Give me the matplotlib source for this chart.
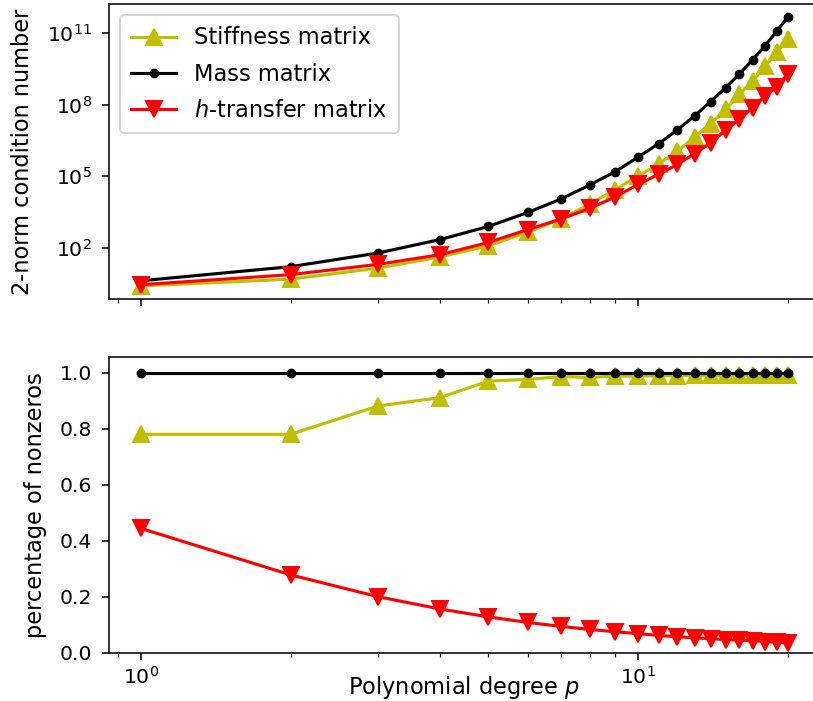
"""Condition numbers and sparsity of the p-version matrices versus polynomial degree."""

import matplotlib

matplotlib.use("Agg")

import matplotlib.pyplot as plt
from matplotlib.ticker import FixedLocator, LogFormatterSciNotation, NullLocator

OUT_PATH = "out.png"
DPI = 140
FONT_SIZE = 11.6
TICK_SIZE = 10.5

degrees = list(range(1, 21))

# 2-norm condition numbers
cond_stiffness = [2.5, 4.8, 14, 41, 120, 450, 1.6e3, 6.9e3, 2.75e4, 1.0e5,
                  3.3e5, 1.1e6, 4.5e6, 1.6e7, 6.3e7, 2.7e8, 1.0e9, 4.0e9, 1.6e10, 5.5e10]
cond_mass = [4.1, 16, 60, 220, 780, 3.0e3, 1.1e4, 4.3e4, 1.55e5, 6.3e5,
             2.3e6, 8.7e6, 3.4e7, 1.35e8, 5.1e8, 1.95e9, 7.6e9, 2.9e10, 1.2e11, 4.6e11]
cond_transfer = [2.8, 7.4, 20, 51, 166, 575, 1.6e3, 4.5e3, 1.35e4, 4.5e4,
                 1.2e5, 3.1e5, 8.9e5, 2.5e6, 8.5e6, 2.4e7, 7.4e7, 2.3e8, 5.6e8, 1.9e9]

# fraction of nonzero entries
nnz_stiffness = [0.78, 0.78, 0.881, 0.911, 0.970, 0.976, 0.986, 0.983, 0.988, 0.988,
                 0.989, 0.989, 0.990, 0.990, 0.990, 0.991, 0.991, 0.991, 0.991, 0.990]
nnz_mass = [1.0] * 20
nnz_transfer = [0.444, 0.278, 0.200, 0.156, 0.128, 0.108, 0.094, 0.083, 0.075, 0.068,
                0.062, 0.057, 0.053, 0.050, 0.047, 0.045, 0.043, 0.040, 0.038, 0.035]

condition_ticks = [1e2, 1e5, 1e8, 1e11]

SERIES = [
    ("Stiffness matrix", "y", "^", 8.5),
    ("Mass matrix", "k", ".", 8),
    ("$h$-transfer matrix", "r", "v", 8.5),
]


def main() -> None:
    plt.rcParams["font.size"] = FONT_SIZE
    plt.rcParams["xtick.labelsize"] = TICK_SIZE
    plt.rcParams["ytick.labelsize"] = TICK_SIZE
    plt.rcParams["ytick.major.pad"] = 5

    fig = plt.figure(figsize=(813 / DPI, 701 / DPI), dpi=DPI)
    ax_top = fig.add_axes([0.1335, 0.5730, 0.8751, 0.4214])
    ax_bot = fig.add_axes([0.1335, 0.0689, 0.8751, 0.4214], sharex=ax_top)

    for (label, color, marker, ms), values in zip(SERIES, [cond_stiffness, cond_mass, cond_transfer]):
        ax_top.plot(degrees, values, color=color, marker=marker, markersize=ms, linewidth=1.6, label=label)

    for (label, color, marker, ms), values in zip(SERIES, [nnz_stiffness, nnz_mass, nnz_transfer]):
        ax_bot.plot(degrees, values, color=color, marker=marker, markersize=ms, linewidth=1.6, label=label)

    ax_top.set_xscale("log")
    ax_top.set_yscale("log")
    ax_top.yaxis.set_major_locator(FixedLocator(condition_ticks))
    ax_top.yaxis.set_major_formatter(LogFormatterSciNotation())
    ax_top.yaxis.set_minor_locator(NullLocator())
    ax_top.tick_params(axis="x", which="both", labelbottom=False)
    ax_top.set_ylabel("2-norm condition number", labelpad=6.5)
    ax_top.legend(loc="upper left", labelspacing=0.58, borderpad=0.5)

    ax_bot.set_ylim(0, 1.055)
    ax_bot.set_xlabel("Polynomial degree $p$", labelpad=-7.5)
    ax_bot.set_ylabel("percentage of nonzeros", labelpad=6.5)

    fig.savefig(OUT_PATH, dpi=DPI)
    plt.close(fig)


if __name__ == "__main__":
    main()
